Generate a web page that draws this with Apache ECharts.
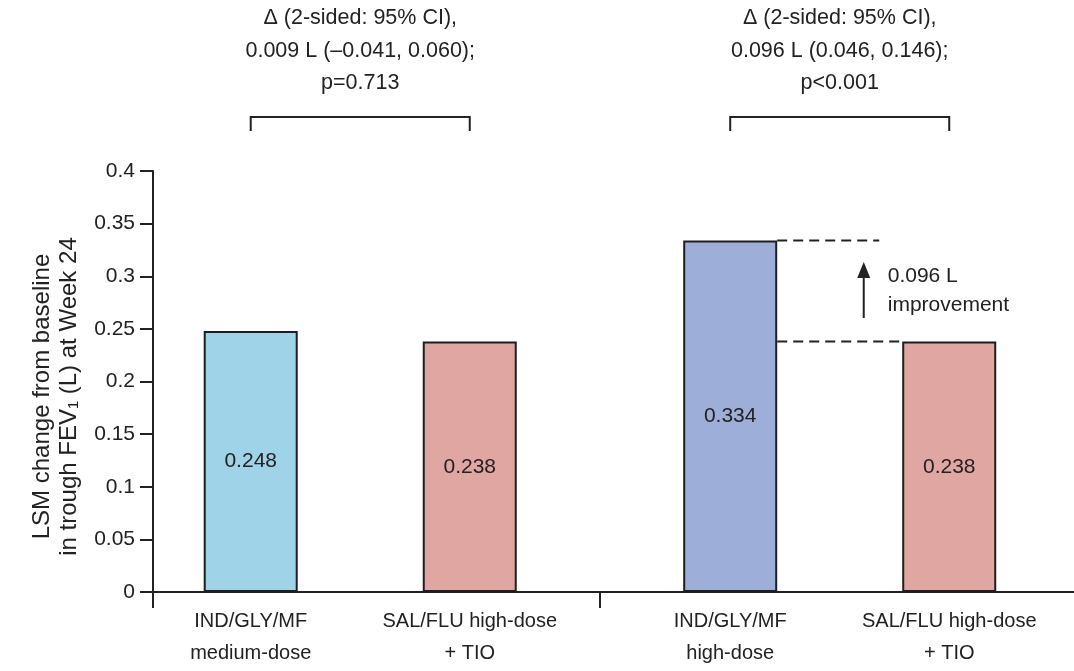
<!DOCTYPE html>
<html><head><meta charset="utf-8">
<script src="https://cdn.jsdelivr.net/npm/echarts@6/dist/echarts.min.js"></script>
<style>html,body{margin:0;padding:0;background:#fff}#c{width:1074px;height:671px}</style>
</head><body><div id="c"></div>
<script>
// ---- data ----
const groups = ['medium-dose comparison', 'high-dose comparison'];
const indGlyMfValues = [0.248, 0.334];
const salFluTioValues = [0.238, 0.238];
const categoryLabels = [
  ['IND/GLY/MF\nmedium-dose', 'SAL/FLU high-dose\n+ TIO'],
  ['IND/GLY/MF\nhigh-dose', 'SAL/FLU high-dose\n+ TIO']
];
const comparisonTexts = [
  'Δ (2-sided: 95% CI),\n0.009 L (–0.041, 0.060);\np=0.713',
  'Δ (2-sided: 95% CI),\n0.096 L (0.046, 0.146);\np<0.001'
];
const improvementText = '0.096 L\nimprovement';
const yAxisTitle = 'LSM change from baseline\nin trough FEV\u2081 (L) at Week 24';

// ---- layout / style ----
const FONT = "'Liberation Sans', Arial, Helvetica, sans-serif";
const TXT = '#222';
const X_MIN = 0.0678, X_MAX = 1.9886;   // group units: group g spans [g, g+1]
const BAR_OFFSET = 0.2284;             // bar centre offset from group centre
const BAR_WIDTH = 94;
const COLORS = [['#9fd4e8', '#e0a6a1'], ['#9dafd8', '#e0a6a1']];
const seriesValues = [indGlyMfValues, salFluTioValues];

const barItems = [];
groups.forEach((g, gi) => {
  seriesValues.forEach((arr, si) => {
    barItems.push({
      name: categoryLabels[gi][si],
      value: [gi + 0.5 + (si === 0 ? -BAR_OFFSET : BAR_OFFSET), arr[gi]],
      itemStyle: { color: COLORS[gi][si] }
    });
  });
});
const barXs = barItems.map(d => d.value[0]);

const chart = echarts.init(document.getElementById('c'), null, { renderer: 'canvas' });
const option = {
  animation: false,
  backgroundColor: '#fff',
  textStyle: { fontFamily: FONT },
  grid: { left: 153, right: 0, top: 171, bottom: 79, containLabel: false, outerBoundsMode: 'none' },
  xAxis: {
    type: 'value', min: X_MIN, max: X_MAX,
    axisLine: { show: true, lineStyle: { color: TXT, width: 2 } },
    axisTick: { show: true, customValues: [X_MIN, 1], length: 16, lineStyle: { color: TXT, width: 2 } },
    axisLabel: {
      customValues: barXs, margin: 13, fontSize: 20, lineHeight: 32, color: TXT, fontFamily: FONT,
      formatter: v => { const i = barXs.findIndex(x => Math.abs(x - v) < 1e-6); return i >= 0 ? barItems[i].name : ''; }
    },
    splitLine: { show: false }
  },
  yAxis: {
    type: 'value', min: 0, max: 0.4, interval: 0.05,
    name: yAxisTitle, nameLocation: 'middle', nameRotate: 90, nameGap: 64,
    nameTextStyle: { fontSize: 24, lineHeight: 27, color: TXT, fontFamily: FONT, padding: [0, 30, 0, 0] },
    axisLine: { show: true, lineStyle: { color: TXT, width: 2 } },
    axisTick: { show: true, length: 13, lineStyle: { color: TXT, width: 2 } },
    axisLabel: { margin: 18, fontSize: 21, color: TXT, fontFamily: FONT },
    splitLine: { show: false }
  },
  series: [{
    type: 'bar',
    data: barItems,
    barWidth: BAR_WIDTH,
    itemStyle: { borderColor: '#1e1e1e', borderWidth: 2 },
    label: {
      show: true, position: 'inside', fontSize: 21, color: TXT, fontFamily: FONT,
      formatter: p => p.value[1].toFixed(3)
    }
  }]
};
chart.setOption(option);

// ---- annotations, positioned through the chart's own scales ----
const px = (x, y) => chart.convertToPixel({ gridIndex: 0 }, [x, y]);
const graphics = [];
const lineStyle = { stroke: TXT, lineWidth: 2, fill: null };
groups.forEach((g, gi) => {
  const xL = px(barXs[gi * 2], 0)[0];
  const xR = px(barXs[gi * 2 + 1], 0)[0];
  graphics.push({ type: 'polyline', shape: { points: [[xL, 131], [xL, 117], [xR, 117], [xR, 131]] }, style: lineStyle, silent: true });
  graphics.push({ type: 'text', x: (xL + xR) / 2, y: 2, silent: true,
    style: { text: comparisonTexts[gi], fontSize: 21.5, fontFamily: FONT, lineHeight: 32.5, fill: TXT,
      align: 'center', textAlign: 'center', verticalAlign: 'top', textVerticalAlign: 'top' } });
});
// dashed reference lines in the high-dose comparison
const hiInd = px(barXs[2], indGlyMfValues[1]);
const hiSal = px(barXs[3], salFluTioValues[1]);
const indRight = hiInd[0] + BAR_WIDTH / 2;
const salLeft = hiSal[0] - BAR_WIDTH / 2;
const dash = { stroke: TXT, lineWidth: 2, lineDash: [10, 6] };
graphics.push({ type: 'line', shape: { x1: indRight, y1: hiInd[1], x2: salLeft - 23, y2: hiInd[1] }, style: dash, silent: true });
graphics.push({ type: 'line', shape: { x1: indRight, y1: hiSal[1], x2: salLeft, y2: hiSal[1] }, style: dash, silent: true });
// arrow
const ax = (indRight + salLeft) / 2 + 24;
const yMid = (hiInd[1] + hiSal[1]) / 2;
graphics.push({ type: 'line', shape: { x1: ax, y1: yMid + 27, x2: ax, y2: yMid - 16 }, style: { stroke: TXT, lineWidth: 2 }, silent: true });
graphics.push({ type: 'polygon', shape: { points: [[ax, yMid - 29], [ax - 6.5, yMid - 13], [ax + 6.5, yMid - 13]] }, style: { fill: TXT }, silent: true });
graphics.push({ type: 'text', x: ax + 24, y: yMid, silent: true,
  style: { text: improvementText, fontSize: 21, fontFamily: FONT, lineHeight: 29, fill: TXT,
    align: 'left', textAlign: 'left', verticalAlign: 'middle', textVerticalAlign: 'middle' } });
chart.setOption({ graphic: graphics });
</script>
</body></html>
